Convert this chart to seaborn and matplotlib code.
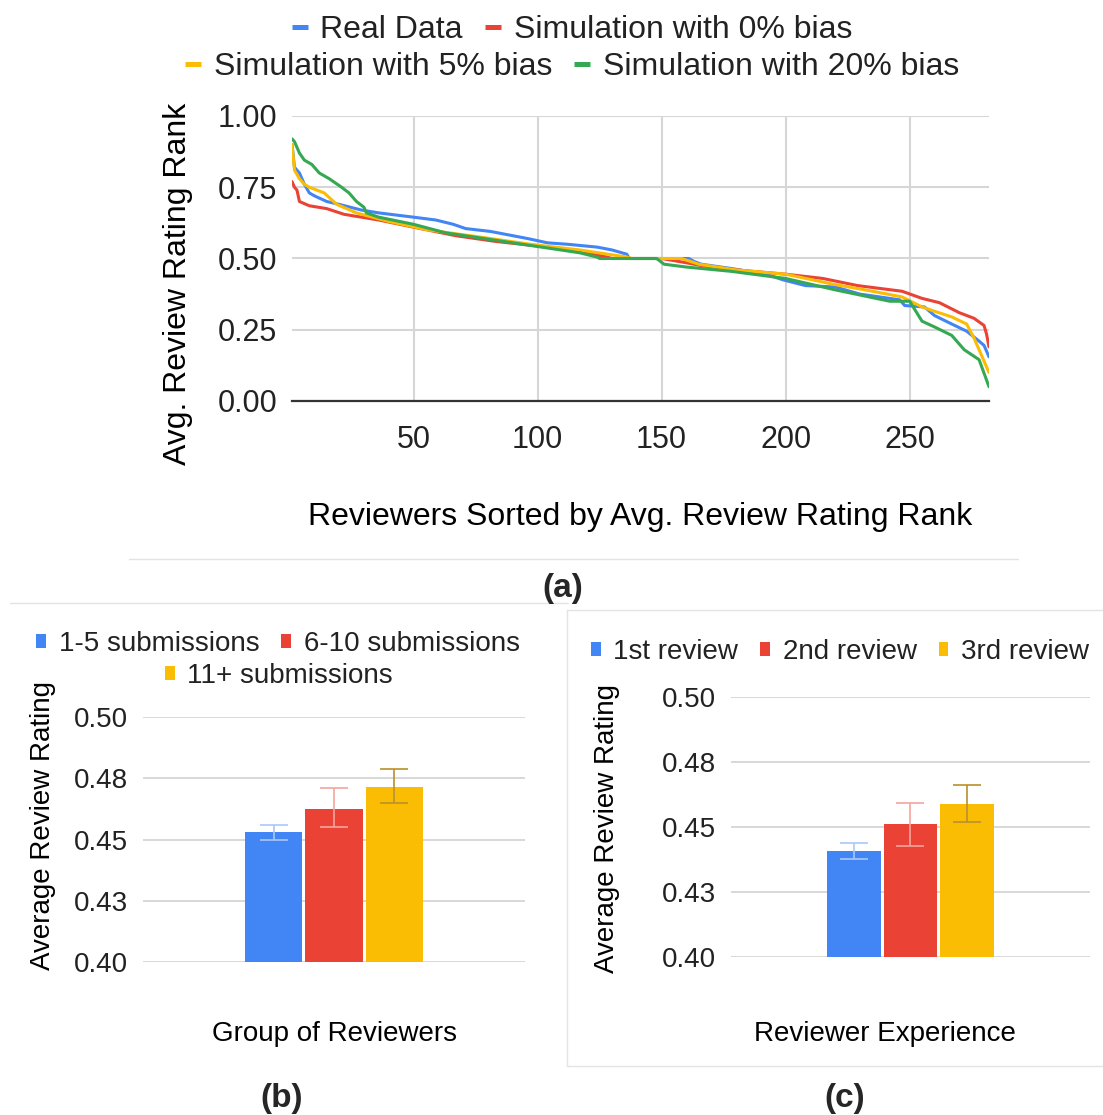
import numpy as np
import pandas as pd
import matplotlib
matplotlib.use("Agg")
import matplotlib.pyplot as plt
from matplotlib.lines import Line2D
from matplotlib.patches import Patch
from matplotlib.container import BarContainer
import seaborn as sns

# ---------------- data: panel (a) ----------------
series_names = ["Real Data", "Simulation with 0% bias",
                "Simulation with 5% bias", "Simulation with 20% bias"]

real_x = [1, 2, 4, 6, 8, 10, 15, 20, 29, 36, 50, 59, 66, 71, 81, 90, 96, 104, 112, 124,
          130, 136, 137, 161, 163, 166, 178, 192, 199, 208, 220, 230, 246, 248, 256, 260,
          267, 273, 278, 280, 282]
real_y = [0.90, 0.82, 0.80, 0.76, 0.73, 0.72, 0.70, 0.69, 0.67, 0.66, 0.645, 0.635, 0.62,
          0.605, 0.595, 0.58, 0.57, 0.555, 0.55, 0.54, 0.53, 0.515, 0.50, 0.50, 0.49, 0.48,
          0.465, 0.445, 0.425, 0.405, 0.40, 0.375, 0.355, 0.335, 0.33, 0.30, 0.27, 0.245,
          0.21, 0.195, 0.155]

bias0_x = [1, 2, 3, 4, 8, 15, 22, 36, 50, 67, 83, 104, 117, 128, 130, 150, 160, 166, 180,
           200, 215, 229, 247, 255, 262, 270, 276, 280, 281, 282]
bias0_y = [0.77, 0.75, 0.74, 0.70, 0.685, 0.675, 0.655, 0.635, 0.61, 0.58, 0.56, 0.54,
           0.525, 0.505, 0.50, 0.50, 0.485, 0.475, 0.46, 0.445, 0.43, 0.405, 0.385, 0.36,
           0.345, 0.31, 0.29, 0.265, 0.235, 0.19]

bias5_x = [1, 2, 4, 6, 8, 14, 19, 27, 40, 56, 77, 97, 117, 136, 138, 158, 165, 180, 200,
           219, 232, 247, 255, 260, 267, 273, 276, 279, 282]
bias5_y = [0.90, 0.81, 0.78, 0.76, 0.75, 0.73, 0.69, 0.66, 0.63, 0.60, 0.575, 0.55, 0.53,
           0.505, 0.50, 0.50, 0.48, 0.46, 0.445, 0.41, 0.39, 0.365, 0.33, 0.315, 0.295,
           0.27, 0.22, 0.16, 0.10]

bias20_x = [1, 2, 4, 6, 9, 12, 16, 21, 24, 27, 30, 31, 36, 50, 63, 90, 117, 124, 125, 148,
            151, 160, 178, 200, 220, 242, 250, 255, 260, 267, 272, 278, 282]
bias20_y = [0.92, 0.91, 0.87, 0.845, 0.83, 0.80, 0.78, 0.75, 0.73, 0.70, 0.68, 0.66, 0.645,
            0.62, 0.59, 0.555, 0.52, 0.505, 0.50, 0.50, 0.48, 0.47, 0.455, 0.43, 0.39, 0.35,
            0.35, 0.28, 0.26, 0.23, 0.18, 0.145, 0.05]

a_xticks = [50, 100, 150, 200, 250]
a_yticks = [0.0, 0.25, 0.5, 0.75, 1.0]
a_yticklabels = ["0.00", "0.25", "0.50", "0.75", "1.00"]

# ---------------- data: panels (b) and (c) ----------------
b_labels = ["1-5 submissions", "6-10 submissions", "11+ submissions"]
b_means = [0.453, 0.4624, 0.4714]
b_low = [0.450, 0.455, 0.4649]
b_high = [0.456, 0.471, 0.4788]

c_labels = ["1st review", "2nd review", "3rd review"]
c_means = [0.4408, 0.4512, 0.4588]
c_low = [0.4377, 0.4427, 0.4519]
c_high = [0.4438, 0.4592, 0.4662]

bar_yticks = [0.40, 0.425, 0.45, 0.475, 0.50]
bar_yticklabels = ["0.40", "0.43", "0.45", "0.48", "0.50"]

# ---------------- style ----------------
BLUE, RED, YELLOW, GREEN = "#4285F4", "#EA4335", "#FBBC04", "#34A853"
ERR_COLORS = ["#a9c8fb", "#f5a49d", "#b8922a"]
GRID = "#d6d6d6"
TXT = "#222222"

sns.set_style("white")
plt.rcParams["font.family"] = ["Liberation Sans", "DejaVu Sans"]

W, H = 1103, 1115
fig = plt.figure(figsize=(W / 100, H / 100), dpi=100)

axA = fig.add_axes([292 / W, 1 - 401 / H, 697 / W, 285 / H])
axB = fig.add_axes([143 / W, 1 - 962 / H, 382 / W, 245 / H])
axC = fig.add_axes([731 / W, 1 - 957 / H, 359 / W, 260 / H])

# ---------------- panel (a) ----------------
dfA = pd.concat([
    pd.DataFrame({"x": real_x, "y": real_y, "s": series_names[0]}),
    pd.DataFrame({"x": bias0_x, "y": bias0_y, "s": series_names[1]}),
    pd.DataFrame({"x": bias5_x, "y": bias5_y, "s": series_names[2]}),
    pd.DataFrame({"x": bias20_x, "y": bias20_y, "s": series_names[3]}),
], ignore_index=True)
palA = dict(zip(series_names, [BLUE, RED, YELLOW, GREEN]))
sns.lineplot(data=dfA, x="x", y="y", hue="s", palette=palA, sort=False,
             estimator=None, lw=2.2, legend=False, ax=axA)
axA.set_xlim(1, 282)
axA.set_ylim(0, 1.0)
axA.set_xticks(a_xticks)
axA.set_xticklabels([str(t) for t in a_xticks])
axA.set_yticks(a_yticks)
axA.set_yticklabels(a_yticklabels)
axA.grid(True, color=GRID, lw=1.5)
axA.set_axisbelow(True)
for sp in ["top", "right", "left"]:
    axA.spines[sp].set_visible(False)
axA.spines["bottom"].set_color("#333333")
axA.spines["bottom"].set_linewidth(1.6)
axA.tick_params(axis="both", length=0, labelsize=22, colors=TXT)
axA.tick_params(axis="x", pad=17)
axA.tick_params(axis="y", pad=10.5)
axA.set_xlabel("Reviewers Sorted by Avg. Review Rating Rank", fontsize=23, color="black")
axA.xaxis.label.set_va("center")
axA.xaxis.set_label_coords(0.5, -0.406)
axA.set_ylabel("Avg. Review Rating Rank", fontsize=23, color="black")
axA.yaxis.label.set_va("center")
axA.yaxis.set_label_coords(-0.1636, 0.41)

# legends (two centred rows)
hA = [Line2D([0], [0], color=c, lw=3.6, solid_capstyle="butt") for c in [BLUE, RED, YELLOW, GREEN]]
legkw = dict(frameon=False, fontsize=23, handlelength=0.5, handletextpad=0.4,
             columnspacing=0.7, borderpad=0, borderaxespad=0, labelcolor=TXT, loc="center")
fig.legend(hA[:2], series_names[:2], ncol=2, bbox_to_anchor=(572 / W, 1 - 30 / H), **legkw)
fig.legend(hA[2:], series_names[2:], ncol=2, bbox_to_anchor=(572 / W, 1 - 67 / H), **legkw)


# ---------------- panels (b), (c) ----------------
def bar_panel(ax, labels, means, lows, highs, xlabel, xlab_coords, ylab_coords):
    df = pd.DataFrame({"g": [""] * len(labels), "lab": labels, "v": means})
    pal = dict(zip(labels, [BLUE, RED, YELLOW]))
    sns.barplot(data=df, x="g", y="v", hue="lab", hue_order=labels, palette=pal,
                width=0.474, gap=0.05, errorbar=None, legend=False, saturation=1,
                edgecolor="none", ax=ax)
    bar_conts = [c for c in ax.containers if isinstance(c, BarContainer)]
    for i, cont in enumerate(bar_conts):
        for p in cont.patches:
            cx = p.get_x() + p.get_width() / 2
            top = p.get_height() + p.get_y()
            ax.errorbar([cx], [top], yerr=[[top - lows[i]], [highs[i] - top]],
                        fmt="none", ecolor=ERR_COLORS[i], elinewidth=1.2,
                        capsize=10, capthick=1.2, zorder=5)
    ax.set_xlim(-0.5, 0.5)
    ax.set_ylim(0.40, 0.50)
    ax.set_yticks(bar_yticks)
    ax.set_yticklabels(bar_yticklabels)
    ax.set_xticks([])
    ax.yaxis.grid(True, color=GRID, lw=1.3)
    ax.xaxis.grid(False)
    ax.set_axisbelow(True)
    for sp in ["top", "right", "left", "bottom"]:
        ax.spines[sp].set_visible(False)
    ax.tick_params(axis="y", length=0, labelsize=20, colors=TXT, pad=11)
    ax.set_xlabel(xlabel, fontsize=20, color="black")
    ax.xaxis.label.set_va("center")
    ax.xaxis.set_label_coords(*xlab_coords)
    ax.set_ylabel("Average Review Rating", fontsize=20, color="black")
    ax.yaxis.label.set_va("center")
    ax.yaxis.set_label_coords(*ylab_coords)


bar_panel(axB, b_labels, b_means, b_low, b_high, "Group of Reviewers",
          (0.5, -0.294), (-0.262, 0.559))
bar_panel(axC, c_labels, c_means, c_low, c_high, "Reviewer Experience",
          (0.429, -0.297), (-0.345, 0.496))

hBar = [Patch(facecolor=c, edgecolor="none") for c in [BLUE, RED, YELLOW]]
legkw2 = dict(frameon=False, fontsize=20, handlelength=0.35, handleheight=0.35,
              handletextpad=0.45, columnspacing=0.8, borderpad=0, borderaxespad=0,
              labelcolor=TXT, loc="center")
fig.legend(hBar[:2], b_labels[:2], ncol=2, bbox_to_anchor=(278 / W, 1 - 644 / H), **legkw2)
fig.legend(hBar[2:], b_labels[2:], ncol=1, bbox_to_anchor=(279 / W, 1 - 676 / H), **legkw2)
fig.legend(hBar, c_labels, ncol=3, bbox_to_anchor=(840 / W, 1 - 652 / H), **legkw2)

# ---------------- panel captions and frames ----------------
fig.text(563 / W, 1 - 588 / H, "(a)", fontsize=24, fontweight="bold", ha="center", va="center")
fig.text(282 / W, 1 - 1099 / H, "(b)", fontsize=24, fontweight="bold", ha="center", va="center")
fig.text(845 / W, 1 - 1099 / H, "(c)", fontsize=24, fontweight="bold", ha="center", va="center")

FRAME = "#e4e4e4"
def fline(x0, y0, x1, y1):
    fig.add_artist(Line2D([x0 / W, x1 / W], [1 - y0 / H, 1 - y1 / H],
                          transform=fig.transFigure, color=FRAME, lw=1))

fline(129, 559, 1018, 559)
fline(10, 603, 568, 603)
fline(567, 610, 1103, 610)
fline(567, 610, 567, 1066)
fline(567, 1066, 1103, 1066)

fig.savefig("out.png", dpi=100)
